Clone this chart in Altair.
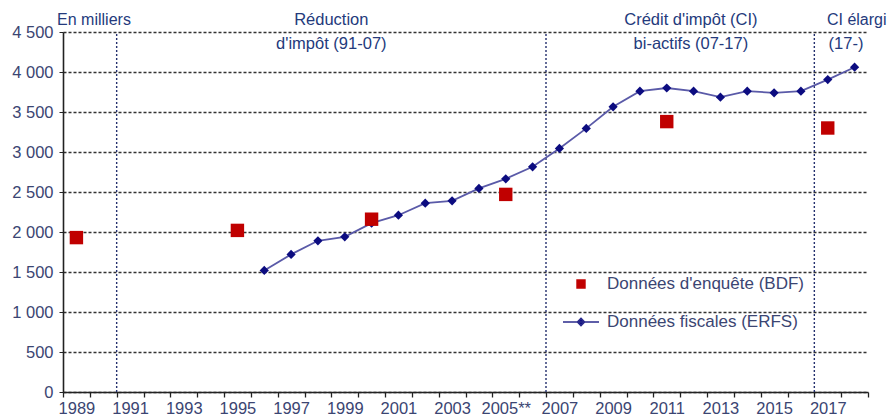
import altair as alt
import pandas as pd

# Données fiscales (ERFS), en milliers
erfs_years = list(range(1996, 2019))
erfs_values = [1520, 1720, 1890, 1940, 2110, 2210, 2360, 2390, 2545, 2665, 2815,
               3045, 3295, 3565, 3760, 3800, 3760, 3685, 3760, 3740, 3760, 3905, 4060]

# Données d'enquête (BDF), en milliers
bdf_years = [1989, 1995, 2000, 2005, 2011, 2017]
bdf_values = [1930, 2020, 2160, 2470, 3380, 3300]

# Limites entre les dispositifs successifs (traits verticaux de 0 à 4 500)
period_breaks = [1990.5, 2006.5, 2016.5]
break_low = [0, 0, 0]
break_high = [4500, 4500, 4500]

# Libellés des périodes (position en année / en milliers)
note_texts = ["En milliers", "Réduction", "d'impôt (91-07)", "Crédit d'impôt (CI)",
              "bi-actifs (07-17)", "CI élargi", "(17-)"]
note_x = [1988.28, 1998.5, 1998.5, 2011.9, 2011.9, 2016.97, 2017.68]
note_y = [4650, 4655, 4355, 4655, 4355, 4655, 4355]
note_align = ["left", "center", "center", "center", "center", "left", "center"]

SERIE_BDF = "Données d'enquête (BDF)"
SERIE_ERFS = "Données fiscales (ERFS)"

FONT = "Liberation Sans"
AXIS_TEXT = "#3b4572"
NOTE_TEXT = "#243a7c"
RED = "#c00000"
NAVY = "#0c0c80"
LINE = "#5a5aa8"

erfs = pd.DataFrame({"annee": erfs_years, "valeur": erfs_values, "serie": SERIE_ERFS})
bdf = pd.DataFrame({"annee": bdf_years, "valeur": bdf_values, "serie": SERIE_BDF})
breaks = pd.DataFrame({"annee": period_breaks, "valeur": break_low, "haut": break_high})
notes = pd.DataFrame({"texte": note_texts, "annee": note_x, "valeur": note_y, "align": note_align})

tick_values = [1988.5 + 0.5 * i for i in range(61)]
x_scale = alt.Scale(domain=[1988.5, 2018.5], nice=False, zero=False)
y_scale = alt.Scale(domain=[0, 4500], nice=False)

x_axis = alt.Axis(
    values=tick_values, title=None, grid=False,
    labelExpr="datum.value % 2 === 1 ? (datum.value === 2005 ? '2005**' : '' + datum.value) : ''",
    labelOverlap=False, labelFlush=False,
    tickSize=5, tickColor="#222222", tickWidth=1.3,
    tickOpacity={"condition": {"test": "datum.value % 1 === 0", "value": 0}, "value": 1},
    labelPadding=3, labelFont=FONT, labelFontSize=16.5, labelColor=AXIS_TEXT,
    domainColor="#222222", domainWidth=1.6,
)
y_axis = alt.Axis(
    values=list(range(0, 4501, 500)), title=None,
    grid=True, gridDash=[3, 2], gridColor="#333333", gridWidth=1.4,
    labelExpr="replace(format(datum.value, ','), ',', ' ')",
    labelOverlap=False,
    tickSize=4, tickColor="#222222", labelPadding=6,
    labelFont=FONT, labelFontSize=16.5, labelColor=AXIS_TEXT,
    domainColor="#222222", domainWidth=1.6,
)

IS_BDF = "indexof(datum.value, 'BDF') >= 0"
color_scale = alt.Scale(domain=[SERIE_BDF, SERIE_ERFS], range=[RED, NAVY])
legend = alt.Legend(
    title=None, orient="none", legendX=499, legendY=233, padding=0,
    symbolType=alt.ExprRef(
        IS_BDF + " ? 'M-0.22,-0.22H0.22V0.22H-0.22Z' : 'M-1,0H1M0,-0.2L0.2,0L0,0.2L-0.2,0Z'"),
    symbolSize=1296, symbolStrokeWidth=1.5,
    symbolStrokeColor=alt.ExprRef(IS_BDF + " ? '" + RED + "' : '#2a2a8c'"),
    symbolOpacity=1,
    labelFont=FONT, labelFontSize=17, labelColor=AXIS_TEXT, labelOffset=7,
    labelLimit=400, rowPadding=11,
)
color_enc = alt.Color("serie:N", scale=color_scale, legend=legend)

rules = alt.Chart(breaks).mark_rule(color="#24306e", strokeDash=[2, 2], strokeWidth=1.4).encode(
    y2="haut:Q"
)

line = alt.Chart(erfs).mark_line(color=LINE, strokeWidth=1.8)

diamonds = alt.Chart(erfs).mark_point(shape="diamond", filled=True, size=85, opacity=1).encode(
    color=color_enc
)

squares = alt.Chart(bdf).mark_point(shape="square", filled=True, size=180, opacity=1).encode(
    color=color_enc
)

notes_left = alt.Chart(notes).transform_filter("datum.align === 'left'").mark_text(
    align="left", baseline="middle", font=FONT, fontSize=16, color=NOTE_TEXT
).encode(text="texte:N")

notes_center = alt.Chart(notes).transform_filter("datum.align === 'center'").mark_text(
    align="center", baseline="middle", font=FONT, fontSize=16.5, color=NOTE_TEXT
).encode(text="texte:N")

chart = alt.layer(rules, line, diamonds, squares, notes_left, notes_center).encode(
    x=alt.X("annee:Q", scale=x_scale, axis=x_axis),
    y=alt.Y("valeur:Q", scale=y_scale, axis=y_axis),
).properties(
    width=805, height=360,
    autosize=alt.AutoSizeParams(type="none"),
    padding={"left": 63, "top": 32, "right": 24, "bottom": 26},
    background="white",
).configure_view(stroke=None)

chart.save("out.html", embed_options={"renderer": "svg", "actions": False})
